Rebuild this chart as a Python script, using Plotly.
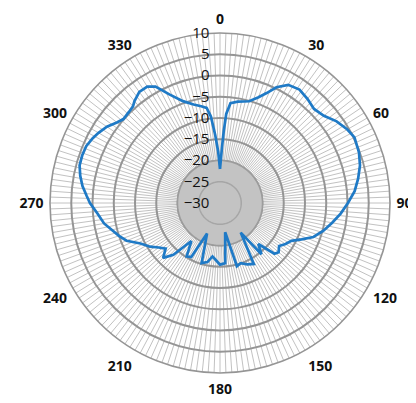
import plotly.graph_objects as go

# Measured pattern (angle in degrees, gain in dB)
angles = [0, 2, 3, 4, 6, 10, 16, 20, 23, 26, 30, 35, 40, 45, 50, 55, 60, 64, 70, 75,
          80, 85, 90, 95, 100, 105, 110, 114, 118, 122, 126, 130, 133, 137, 141, 145,
          151, 156, 161, 165, 170, 175, 180, 184, 188, 192, 197, 203, 208, 212, 217,
          222, 226, 230, 234, 238, 243, 248, 252, 256, 260, 265,
          270, 273, 277, 281, 285, 289, 293, 297, 300, 304, 308, 311, 315, 318, 320,
          324, 328, 331, 335, 340, 345, 349, 352, 354, 356, 358, 360]
gain_db = [-22, -17, -13, -9, -6.4, -5.8, -5.1, -3.5, -1.9, 0.3, 2.1, 2.6, 2.0, 1.3, 1.9,
           3.5, 4.6, 5.2, 4.8, 4.1, 3.0, 1.8, 0.1, -1.5, -3.2, -4.8, -6.6, -9, -11, -11.8,
           -12.8, -12.0, -12.5, -16.8, -14.5, -21.5, -13.6, -14.2, -15.0, -14.6, -23,
           -15.8, -15.5, -16.5, -17.3, -15.8, -15.2, -22.2, -15.6, -15.2, -18.8,
           -13.6, -11.4, -13.3, -12.2, -10.6, -9.0, -6.3, -5.0, -3.8, -2.3, -1.1,
           0.6, 1.4, 2.6, 3.5, 4.2, 4.3, 4.2, 3.6, 3.0, 2.1, 0.8, 0.1, 0.3, 0.6, 1.3,
           2.3, 2.3, 1.3, -1.8, -4.5, -6.0, -6.8, -7.4, -9.5, -14, -18, -22]

r_min, r_max, r_step = -30, 10, 5
spoke_step = 2
disc_level = -20

spoke_vals = list(range(0, 360, spoke_step))
spoke_text = [f"{a}" if a % 30 == 0 else "" for a in spoke_vals]
circle_theta = list(range(0, 361, 2))

# page body margin (8px) offsets the plot; compensate in the domain
off = 8
W, H = 416, 403
cx, cy, rad = 220 - off, 203 - off, 170

fig = go.Figure()
fig.add_trace(go.Scatterpolar(
    r=[disc_level] * len(circle_theta), theta=circle_theta, mode="lines",
    fill="toself", fillcolor="#c3c3c3", line=dict(color="#9c9c9c", width=1.5),
    hoverinfo="skip", showlegend=False))
fig.add_trace(go.Scatterpolar(
    r=[disc_level - r_step] * len(circle_theta), theta=circle_theta, mode="lines",
    line=dict(color="#a6a6a6", width=1.5), hoverinfo="skip", showlegend=False))
fig.add_trace(go.Scatterpolar(
    r=gain_db, theta=angles, mode="lines",
    line=dict(color="#1f7ac6", width=2.7), showlegend=False))

fig.update_layout(
    width=W, height=H,
    margin=dict(l=0, r=0, t=0, b=0),
    paper_bgcolor="white",
    showlegend=False,
    polar=dict(
        domain=dict(x=[(cx - rad) / W, (cx + rad) / W],
                    y=[1 - (cy + rad) / H, 1 - (cy - rad) / H]),
        bgcolor="white",
        angularaxis=dict(
            direction="clockwise", rotation=90,
            tickmode="array", tickvals=spoke_vals, ticktext=spoke_text,
            ticks="outside", ticklen=3, tickcolor="rgba(0,0,0,0)",
            tickfont=dict(family="Open Sans", size=14, color="#111", weight="bold"),
            showgrid=True, gridcolor="#c2c2c2", gridwidth=1,
            showline=True, linecolor="#959595", linewidth=1.6,
        ),
        radialaxis=dict(
            range=[r_min, r_max], tickmode="linear", tick0=r_min, dtick=r_step,
            angle=90, tickangle=90, side="counterclockwise",
            showline=False, ticks="", ticksuffix="\u00a0\u00a0",
            tickfont=dict(family="Open Sans", size=15, color="#111"),
            showgrid=True, gridcolor="#959595", gridwidth=1.6,
            layer="above traces",
        ),
    ),
)

fig.write_html("out.html")
